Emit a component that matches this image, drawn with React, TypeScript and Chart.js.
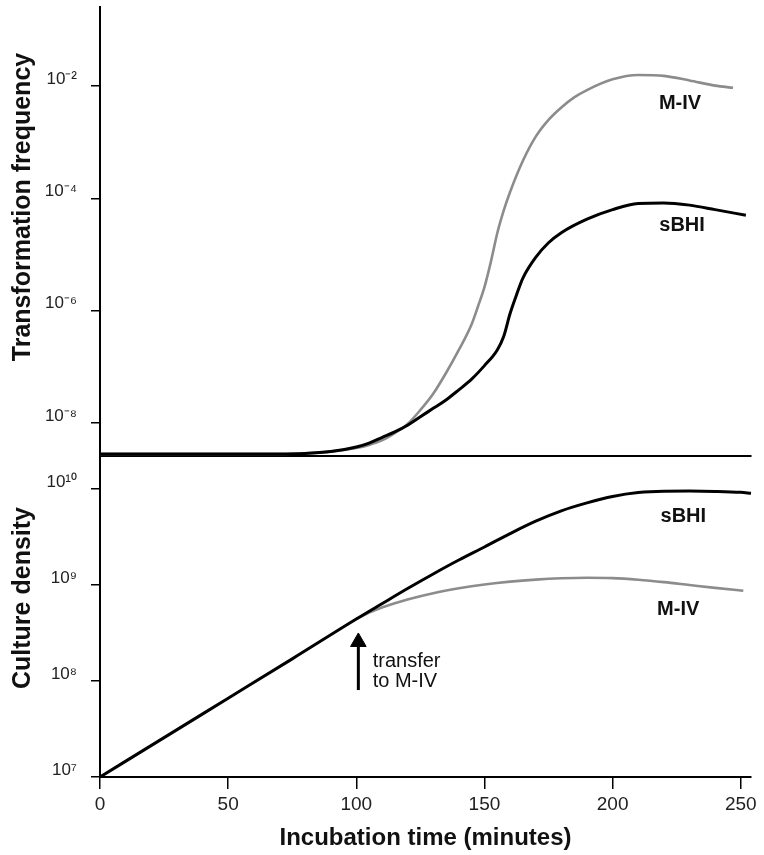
import React, { useEffect, useRef } from "react";
import { Chart, registerables } from "chart.js";

Chart.register(...registerables);

const FONT = '"Liberation Sans", Arial, Helvetica, sans-serif';

// ---- axes ----
const X_MIN = 0;
const X_MAX = 254;
const X_TICKS = [0, 50, 100, 150, 200, 250];
const X_TITLE = "Incubation time (minutes)";

const TOP_TITLE = "Transformation frequency";
const TOP_MIN = 2.58e-9;
const TOP_MAX = 0.2565;
const TOP_TICKS = [1e-8, 1e-6, 1e-4, 1e-2];
const TOP_TICK_LABELS = ["10⁻⁸", "10⁻⁶", "10⁻⁴", "10⁻²"];

const BOTTOM_TITLE = "Culture density";
const BOTTOM_MIN = 1e7;
const BOTTOM_MAX = 2.26e10;
const BOTTOM_TICKS = [1e7, 1e8, 1e9, 1e10];
const BOTTOM_TICK_LABELS = ["10⁷", "10⁸", "10⁹", "10¹⁰"];

// ---- top panel: transformation frequency ----
const TOP_SBHI_TIME = [0, 20, 40, 60, 70, 80, 90, 100, 105, 110, 115, 120, 125, 130, 135, 140, 145, 150, 155, 157.5, 160, 162.5, 165, 170, 175, 180, 190, 200, 210, 220, 230, 240, 252];
const TOP_SBHI_FREQ = [2.8e-9, 2.8e-9, 2.8e-9, 2.8e-9, 2.8e-9, 2.85e-9, 3.09e-9, 3.72e-9, 4.37e-9, 5.5e-9, 6.92e-9, 9.12e-9, 1.29e-8, 1.82e-8, 2.57e-8, 3.89e-8, 6.03e-8, 1.05e-7, 2.0e-7, 3.47e-7, 8.91e-7, 1.91e-6, 3.8e-6, 8.91e-6, 1.62e-5, 2.45e-5, 4.27e-5, 6.31e-5, 8.13e-5, 8.32e-5, 7.59e-5, 6.31e-5, 5.01e-5];

const TOP_MIV_TIME = [0, 20, 40, 60, 70, 80, 90, 100, 105, 110, 115, 120, 125, 130, 135, 140, 145, 147.5, 150, 152.5, 155, 157.5, 160, 165, 170, 175, 180, 185, 190, 200, 210, 220, 230, 240, 247];
const TOP_MIV_FREQ = [2.8e-9, 2.8e-9, 2.8e-9, 2.8e-9, 2.8e-9, 2.88e-9, 3.09e-9, 3.59e-9, 4.07e-9, 4.9e-9, 6.61e-9, 9.55e-9, 1.7e-8, 3.31e-8, 7.76e-8, 2.0e-7, 5.75e-7, 1.2e-6, 2.63e-6, 7.41e-6, 2.4e-5, 6.03e-5, 1.3e-4, 4.68e-4, 1.26e-3, 2.51e-3, 4.17e-3, 6.31e-3, 8.51e-3, 1.32e-2, 1.58e-2, 1.52e-2, 1.26e-2, 1.02e-2, 9.33e-3];

// ---- bottom panel: culture density ----
const BOTTOM_SBHI_TIME = [0, 25, 50, 75, 100, 110, 120, 130, 140, 150, 160, 170, 180, 190, 200, 210, 220, 230, 240, 250, 254];
const BOTTOM_SBHI_DENSITY = [1e7, 2.57e7, 6.61e7, 1.7e8, 4.42e8, 6.38e8, 9.18e8, 1.303e9, 1.82e9, 2.49e9, 3.43e9, 4.62e9, 5.92e9, 7.16e9, 8.36e9, 9.18e9, 9.48e9, 9.51e9, 9.44e9, 9.23e9, 9.02e9];

const BOTTOM_MIV_TIME = [100, 105, 110, 115, 120, 130, 140, 150, 160, 170, 180, 190, 200, 210, 220, 230, 240, 251];
const BOTTOM_MIV_DENSITY = [4.42e8, 5.15e8, 5.82e8, 6.46e8, 7.08e8, 8.22e8, 9.23e8, 1.012e9, 1.084e9, 1.138e9, 1.175e9, 1.191e9, 1.18e9, 1.135e9, 1.072e9, 1.0e9, 9.33e8, 8.71e8];

// transfer arrow
const ARROW_TIME = [100.8, 100.8];
const ARROW_DENSITY = [8.05e7, 2.55e8];

// ---- text labels (data coordinates) ----
const TOP_LABEL_TEXT = ["M-IV", "sBHI"];
const TOP_LABEL_TIME = [226.3, 227.1];
const TOP_LABEL_VALUE = [5.0e-3, 3.25e-5];

const BOTTOM_LABEL_TEXT = ["sBHI", "M-IV"];
const BOTTOM_LABEL_TIME = [227.6, 225.6];
const BOTTOM_LABEL_VALUE = [5.14e9, 5.5e8];

const NOTE_TEXT = ["transfer", "to M-IV"];
const NOTE_TIME = [106.4, 106.4];
const NOTE_VALUE = [1.59e8, 1.0e8];

const GRAY = "#8c8c8c";
const BLACK = "#000000";

type Lbl = { text: string; t: number; v: number; font: string; align: CanvasTextAlign };

function makeLabels(texts: string[], times: number[], values: number[], font: string, align: CanvasTextAlign): Lbl[] {
  return texts.map((text, i) => ({ text, t: times[i], v: values[i], font, align }));
}

function textPlugin(items: Lbl[]) {
  return {
    id: "textLabels",
    afterDatasetsDraw(chart: any) {
      const { ctx, scales } = chart;
      ctx.save();
      ctx.fillStyle = "#111";
      ctx.textBaseline = "middle";
      items.forEach((it) => {
        ctx.font = it.font;
        ctx.textAlign = it.align;
        ctx.fillText(it.text, scales.x.getPixelForValue(it.t), scales.y.getPixelForValue(it.v));
      });
      ctx.restore();
    },
  };
}

function pts(times: number[], values: number[]) {
  return times.map((t, i) => ({ x: t, y: values[i] }));
}

function xScale(show: boolean): any {
  return {
    type: "linear",
    min: X_MIN,
    max: X_MAX,
    bounds: "data",
    afterBuildTicks: (s: any) => {
      s.ticks = X_TICKS.map((value) => ({ value }));
    },
    afterFit: (s: any) => {
      s.height = show ? 78 : 2;
      s.paddingLeft = 0;
      s.paddingRight = 0;
      s.paddingTop = 0;
      s.paddingBottom = 0;
    },
    border: { display: true, color: BLACK, width: 2 },
    grid: { display: show, drawOnChartArea: false, drawTicks: true, tickLength: 12, color: BLACK, lineWidth: 1.5 },
    ticks: { display: show, autoSkip: false, maxRotation: 0, padding: 4, color: "#222", font: { family: FONT, size: 19 } },
    title: {
      display: show,
      text: X_TITLE,
      color: "#111",
      font: { family: FONT, size: 24, weight: "bold" },
      padding: { top: 0, bottom: 2 },
    },
  };
}

function yScale(min: number, max: number, ticks: number[], labels: string[]): any {
  return {
    type: "logarithmic",
    min,
    max,
    bounds: "data",
    afterBuildTicks: (s: any) => {
      s.ticks = ticks.map((value) => ({ value }));
    },
    afterFit: (s: any) => {
      s.width = 100;
      s.paddingTop = 0;
      s.paddingBottom = 0;
      s.paddingLeft = 0;
      s.paddingRight = 0;
    },
    border: { display: true, color: BLACK, width: 2 },
    grid: { drawOnChartArea: false, drawTicks: true, tickLength: 9, color: BLACK, lineWidth: 1.5 },
    ticks: {
      autoSkip: false,
      padding: 14,
      labelOffset: -7,
      color: "#222",
      font: { family: FONT, size: 17 },
      callback: (_v: any, i: number) => labels[i],
    },
  };
}

const lineDs = (data: any[], color: string, width: number) => ({
  data,
  borderColor: color,
  borderWidth: width,
  pointRadius: 0,
  cubicInterpolationMode: "monotone",
  fill: false,
  clip: false,
});

export default function App() {
  const topRef = useRef<HTMLCanvasElement>(null);
  const botRef = useRef<HTMLCanvasElement>(null);

  useEffect(() => {
    const common = {
      animation: false,
      responsive: false,
      events: [],
      plugins: { legend: { display: false }, tooltip: { enabled: false } },
    };

    const topChart = new Chart(topRef.current as HTMLCanvasElement, {
      type: "line",
      data: {
        datasets: [
          lineDs(pts(TOP_SBHI_TIME, TOP_SBHI_FREQ), BLACK, 3),
          lineDs(pts(TOP_MIV_TIME, TOP_MIV_FREQ), GRAY, 2.6),
        ] as any,
      },
      options: {
        ...common,
        layout: { autoPadding: false, padding: { top: 7, right: 13, bottom: 0, left: 0 } },
        scales: {
          x: xScale(false),
          y: yScale(TOP_MIN, TOP_MAX, TOP_TICKS, TOP_TICK_LABELS),
        },
      } as any,
      plugins: [textPlugin(makeLabels(TOP_LABEL_TEXT, TOP_LABEL_TIME, TOP_LABEL_VALUE, `bold 20px ${FONT}`, "center"))],
    });

    const botChart = new Chart(botRef.current as HTMLCanvasElement, {
      type: "line",
      data: {
        datasets: [
          lineDs(pts(BOTTOM_SBHI_TIME, BOTTOM_SBHI_DENSITY), BLACK, 3),
          lineDs(pts(BOTTOM_MIV_TIME, BOTTOM_MIV_DENSITY), GRAY, 2.6),
          {
            data: pts(ARROW_TIME, ARROW_DENSITY),
            borderColor: BLACK,
            backgroundColor: BLACK,
            borderWidth: 3,
            pointStyle: "triangle",
            pointRadius: [0, 9],
            pointBorderWidth: 1,
            fill: false,
            clip: false,
          },
        ] as any,
      },
      options: {
        ...common,
        layout: { autoPadding: false, padding: { top: 0, right: 13, bottom: 0, left: 0 } },
        scales: {
          x: xScale(true),
          y: yScale(BOTTOM_MIN, BOTTOM_MAX, BOTTOM_TICKS, BOTTOM_TICK_LABELS),
        },
      } as any,
      plugins: [
        textPlugin([
          ...makeLabels(BOTTOM_LABEL_TEXT, BOTTOM_LABEL_TIME, BOTTOM_LABEL_VALUE, `bold 20px ${FONT}`, "center"),
          ...makeLabels(NOTE_TEXT, NOTE_TIME, NOTE_VALUE, `20px ${FONT}`, "left"),
        ]),
      ],
    });

    return () => {
      topChart.destroy();
      botChart.destroy();
    };
  }, []);

  const titleStyle = (cx: number, cy: number): React.CSSProperties => ({
    position: "absolute",
    left: cx,
    top: cy,
    transform: "translate(-50%, -50%) rotate(-90deg)",
    font: `bold 25px ${FONT}`,
    lineHeight: 1,
    whiteSpace: "nowrap",
    color: "#111",
  });

  return (
    <div style={{ position: "absolute", left: 0, top: 0, width: 764, height: 855, background: "#fff", overflow: "hidden" }}>
      <canvas ref={botRef} width={764} height={400} style={{ position: "absolute", left: 0, top: 455, width: 764, height: 400 }} />
      <canvas ref={topRef} width={764} height={458} style={{ position: "absolute", left: 0, top: 0, width: 764, height: 458 }} />
      <div style={titleStyle(21, 207)}>{TOP_TITLE}</div>
      <div style={titleStyle(21, 598)}>{BOTTOM_TITLE}</div>
    </div>
  );
}
